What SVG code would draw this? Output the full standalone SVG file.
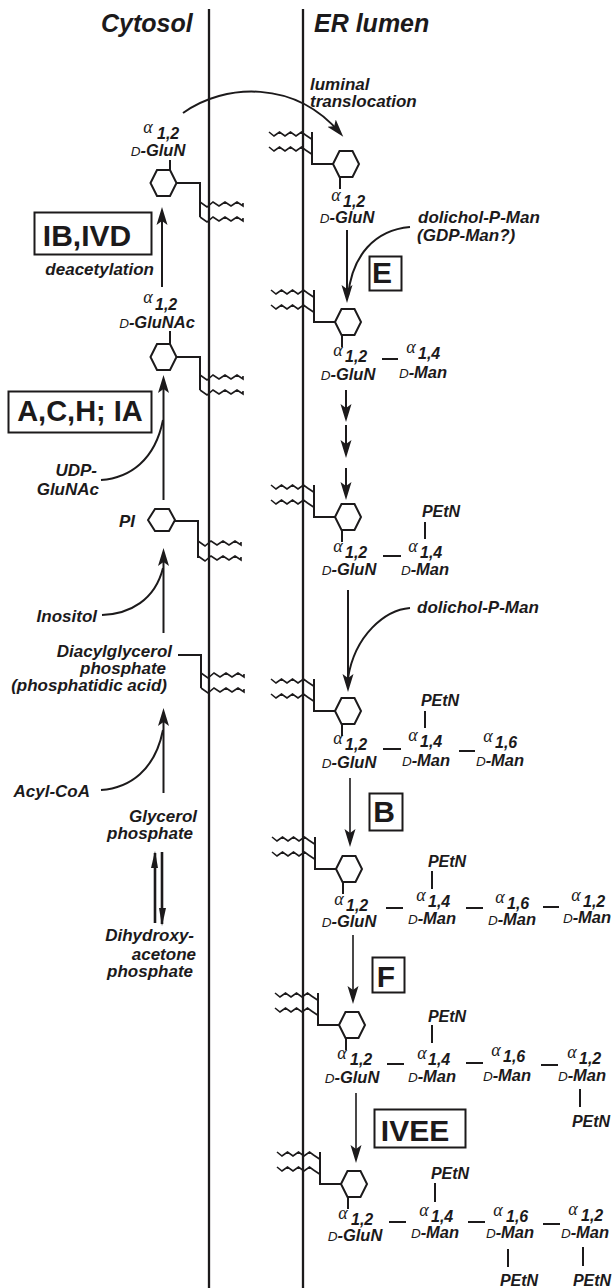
<svg xmlns="http://www.w3.org/2000/svg" width="613" height="1288" viewBox="0 0 613 1288">
<style>
text{font-family:"Liberation Sans",Arial,sans-serif;font-weight:700;font-style:italic;font-size:17px;fill:#1c1a1b}
.h{font-size:25px}
.m{text-anchor:middle}
.e{text-anchor:end}
.a{font-family:"Liberation Serif",serif;font-weight:400;font-size:18px;text-anchor:middle}
.g{font-size:16.500px;text-anchor:middle}
.n{font-size:16px}
.p{font-size:16px;text-anchor:middle}
.d{font-size:13.500px;font-weight:400}
.b{font-style:normal;font-size:30px;text-anchor:middle}
.l{fill:none;stroke:#1c1a1b;stroke-width:2}
.t{fill:none;stroke:#1c1a1b;stroke-width:1.600}
.v{fill:none;stroke:#1c1a1b;stroke-width:2.300}
.box{fill:#fff;stroke:#1c1a1b;stroke-width:2}
.dbl{stroke-width:2.600}
</style>
<defs>
<marker id="ah" markerUnits="userSpaceOnUse" markerWidth="18" markerHeight="12" refX="13" refY="6" orient="auto"><path d="M0 0.500L18 6L0 11.500L4 6Z" fill="#1c1a1b"/></marker>
<path id="hex" class="l" d="M-13 0L-6.500 -13H6.500L13 0L6.500 13H-6.500Z"/>
<path id="rtail" class="t" d="M-77 -32l5 4l5.500 -4l5.500 4l5.500 -4l5.500 4l5.500 -4l4 3l6 4M-77 -17l5 4l5.500 -4l5.500 4l5.500 -4l5.500 4l5.500 -4l4 3l6 4"/>
<path id="ltail" class="t" d="M0 -2l7 5l6 -5l6 4l6 -4l6 4l6 -4l6 4v-3M0 13l7 5l6 -5l6 4l6 -4l6 4l6 -4l6 4v-3"/>
<g id="runit"><use href="#rtail"/><path class="l" d="M-34 -32V0H-13M-6 13V25"/><use href="#hex"/></g>
</defs>
<g id="membrane"><path class="v" d="M209 9V1288M303 9V1288"/></g>
<g id="headers"><text class="h" x="101" y="32">Cytosol</text><text class="h" x="314" y="32">ER lumen</text></g>
<g id="connectors">
<path class="l" d="M183 113C225 83 295 80 340 133" marker-end="url(#ah)"/>
<path class="l" d="M162 287V212" marker-end="url(#ah)"/>
<path class="l" d="M163.500 500V380" marker-end="url(#ah)"/>
<path class="l" d="M101 480C130 478 155 460 163 420"/>
<path class="l" d="M163.500 633V553" marker-end="url(#ah)"/>
<path class="l" d="M102 615C130 614 155 600 163 568"/>
<path class="l" d="M163.500 793V713" marker-end="url(#ah)"/>
<path class="l" d="M101 790C130 788 155 770 163 730"/>
<path class="t dbl" d="M155 923V853M162 852V924"/>
<path d="M155 851L158 868H151Z" fill="#1c1a1b"/><path d="M162 926L159 908H166Z" fill="#1c1a1b"/>
<path class="l" d="M347 230V298" marker-end="url(#ah)"/>
<path class="l" d="M410 227C375 230 352 255 348 296"/>
<path class="l" d="M346 390V417" marker-end="url(#ah)"/>
<path class="l" d="M346 425V453" marker-end="url(#ah)"/>
<path class="l" d="M346 468V495" marker-end="url(#ah)"/>
<path class="l" d="M348 590V687" marker-end="url(#ah)"/>
<path class="l" d="M410 608C385 610 355 635 348 678"/>
<path class="t" d="M350 778V842" marker-end="url(#ah)"/>
<path class="t" d="M353 935V999" marker-end="url(#ah)"/>
<path class="t" d="M356 1093V1158" marker-end="url(#ah)"/>
</g>
<g id="lipid-1"><use href="#hex" x="163.500" y="183"/><path class="l" d="M170 160V171M176.500 183H200V217"/><use href="#ltail" x="200" y="204"/></g>
<g id="lipid-2"><use href="#hex" x="163.500" y="357"/><path class="l" d="M170 331V345M176.500 357H200V390"/><use href="#ltail" x="200" y="377"/></g>
<g id="lipid-3"><path class="l" d="M148 520L155 509H169L175 520L169 531H155ZM175 521H198V558"/><use href="#ltail" x="198" y="543"/></g>
<g id="lipid-4"><path class="l" d="M178 655H201V688"/><use href="#ltail" x="201" y="675"/></g>
<g id="rgly-1"><use href="#runit" x="346" y="164"/></g>
<g id="rgly-2"><use href="#runit" x="348" y="322"/></g>
<g id="rgly-3"><use href="#runit" x="348" y="517"/></g>
<g id="rgly-4"><use href="#runit" x="348" y="711"/></g>
<g id="rgly-5"><use href="#runit" x="349" y="869"/></g>
<g id="rgly-6"><use href="#runit" x="352" y="1025"/></g>
<g id="rgly-7"><use href="#runit" x="354" y="1184"/></g>
<g id="labels-left">
<text class="a" x="148" y="133">α</text><text class="n" x="157" y="139">1,2</text><text class="g" x="158" y="156"><tspan class="d">D</tspan>-GluN</text>
<text class="a" x="148" y="303">α</text><text class="n" x="155" y="310">1,2</text><text class="g" x="157" y="328"><tspan class="d">D</tspan>-GluNAc</text>
<text class="e" x="154" y="275">deacetylation</text>
<text class="e" x="97" y="476">UDP-</text><text class="e" x="99" y="495">GluNAc</text>
<text class="e" x="135" y="527">PI</text>
<text class="e" x="97" y="622">Inositol</text>
<text class="e" x="172" y="657">Diacylglycerol</text><text class="e" x="166" y="674">phosphate</text><text class="e" x="167" y="691">(phosphatidic acid)</text>
<text class="e" x="90" y="797">Acyl-CoA</text>
<text class="e" x="197" y="822">Glycerol</text><text class="e" x="193" y="839">phosphate</text>
<text class="e" x="194" y="941">Dihydroxy-</text><text class="e" x="196" y="960">acetone</text><text class="e" x="193" y="977">phosphate</text>
</g>
<g id="labels-right">
<text x="310" y="90">luminal</text><text x="310" y="107">translocation</text>
<text x="418" y="223">dolichol-P-Man</text><text x="417" y="241">(GDP-Man?)</text>
<text x="417" y="613">dolichol-P-Man</text>
</g>
<g id="sugars">
<text class="a" x="336" y="201">α</text><text class="n" x="343" y="207">1,2</text><text class="g" x="347" y="223"><tspan class="d">D</tspan>-GluN</text>
<text class="a" x="338" y="356">α</text><text class="n" x="345" y="362">1,2</text><text class="g" x="348" y="380"><tspan class="d">D</tspan>-GluN</text>
<path class="l" d="M382 359H398"/><text class="a" x="411" y="353">α</text><text class="n" x="418" y="359">1,4</text><text class="g" x="423" y="378"><tspan class="d">D</tspan>-Man</text>
<text class="a" x="338" y="552">α</text><text class="n" x="345" y="558">1,2</text><text class="g" x="349" y="575"><tspan class="d">D</tspan>-GluN</text>
<path class="l" d="M383 556H401"/><text class="a" x="413" y="552">α</text><text class="n" x="420" y="558">1,4</text><text class="g" x="425" y="575"><tspan class="d">D</tspan>-Man</text>
<text class="p" x="441" y="517">PEtN</text><path class="l" d="M425 522V539"/>
<text class="a" x="338" y="744">α</text><text class="n" x="345" y="750">1,2</text><text class="g" x="349" y="768"><tspan class="d">D</tspan>-GluN</text>
<path class="l" d="M383 749H401"/><text class="a" x="413" y="741">α</text><text class="n" x="420" y="747">1,4</text><text class="g" x="426" y="766"><tspan class="d">D</tspan>-Man</text>
<text class="p" x="440" y="706">PEtN</text><path class="l" d="M425 711V728"/>
<path class="l" d="M459 751H475"/><text class="a" x="488" y="742">α</text><text class="n" x="495" y="748">1,6</text><text class="g" x="500" y="766"><tspan class="d">D</tspan>-Man</text>
<text class="a" x="339" y="905">α</text><text class="n" x="346" y="911">1,2</text><text class="g" x="349" y="927"><tspan class="d">D</tspan>-GluN</text>
<path class="l" d="M386 908H403"/><text class="a" x="421" y="901">α</text><text class="n" x="428" y="907">1,4</text><text class="g" x="432" y="924"><tspan class="d">D</tspan>-Man</text>
<text class="p" x="447" y="867">PEtN</text><path class="l" d="M432 871V889"/>
<path class="l" d="M466 908H483"/><text class="a" x="500" y="903">α</text><text class="n" x="507" y="909">1,6</text><text class="g" x="512" y="925"><tspan class="d">D</tspan>-Man</text>
<path class="l" d="M543 907H559"/><text class="a" x="576" y="901">α</text><text class="n" x="583" y="907">1,2</text><text class="g" x="587" y="923"><tspan class="d">D</tspan>-Man</text>
<text class="a" x="342" y="1059">α</text><text class="n" x="350" y="1065">1,2</text><text class="g" x="352" y="1083"><tspan class="d">D</tspan>-GluN</text>
<path class="l" d="M387 1064H404"/><text class="a" x="422" y="1059">α</text><text class="n" x="428" y="1065">1,4</text><text class="g" x="432" y="1082"><tspan class="d">D</tspan>-Man</text>
<text class="p" x="447" y="1022">PEtN</text><path class="l" d="M432 1025V1043"/>
<path class="l" d="M466 1063H483"/><text class="a" x="496" y="1056">α</text><text class="n" x="503" y="1062">1,6</text><text class="g" x="507" y="1081"><tspan class="d">D</tspan>-Man</text>
<path class="l" d="M541 1065H558"/><text class="a" x="572" y="1058">α</text><text class="n" x="579" y="1064">1,2</text><text class="g" x="582" y="1081"><tspan class="d">D</tspan>-Man</text>
<path class="l" d="M580 1089V1107"/><text class="p" x="591" y="1127">PEtN</text>
<text class="a" x="343" y="1219">α</text><text class="n" x="351" y="1225">1,2</text><text class="g" x="355" y="1241"><tspan class="d">D</tspan>-GluN</text>
<path class="l" d="M389 1222H406"/><text class="a" x="424" y="1216">α</text><text class="n" x="431" y="1222">1,4</text><text class="g" x="435" y="1238"><tspan class="d">D</tspan>-Man</text>
<text class="p" x="450" y="1179">PEtN</text><path class="l" d="M435 1183V1202"/>
<path class="l" d="M468 1222H485"/><text class="a" x="498" y="1216">α</text><text class="n" x="506" y="1222">1,6</text><text class="g" x="510" y="1238"><tspan class="d">D</tspan>-Man</text>
<path class="l" d="M543 1224H560"/><text class="a" x="573" y="1215">α</text><text class="n" x="581" y="1221">1,2</text><text class="g" x="585" y="1238"><tspan class="d">D</tspan>-Man</text>
<path class="l" d="M508 1249V1267"/><text class="p" x="519" y="1286">PEtN</text>
<path class="l" d="M583 1247V1266"/><text class="p" x="592" y="1286">PEtN</text>
</g>
<g id="box-ibivd"><rect class="box" x="34.500" y="212.500" width="117" height="42"/><text class="b" x="87" y="246">IB,IVD</text></g>
<g id="box-ach"><rect class="box" x="8.500" y="391.500" width="143" height="41"/><text class="b" x="80" y="421" style="font-size:29px">A,C,H; IA</text></g>
<g id="box-e"><rect class="box" x="369.500" y="256.500" width="32" height="34"/><text class="b" x="382" y="283">E</text></g>
<g id="box-b"><rect class="box" x="369.500" y="793.500" width="33" height="37"/><text class="b" x="384" y="822">B</text></g>
<g id="box-f"><rect class="box" x="372.500" y="957.500" width="32" height="35"/><text class="b" x="386" y="987">F</text></g>
<g id="box-ivee"><rect class="box" x="374.500" y="1109.500" width="91" height="38"/><text class="b" x="415" y="1141">IVEE</text></g>
</svg>
